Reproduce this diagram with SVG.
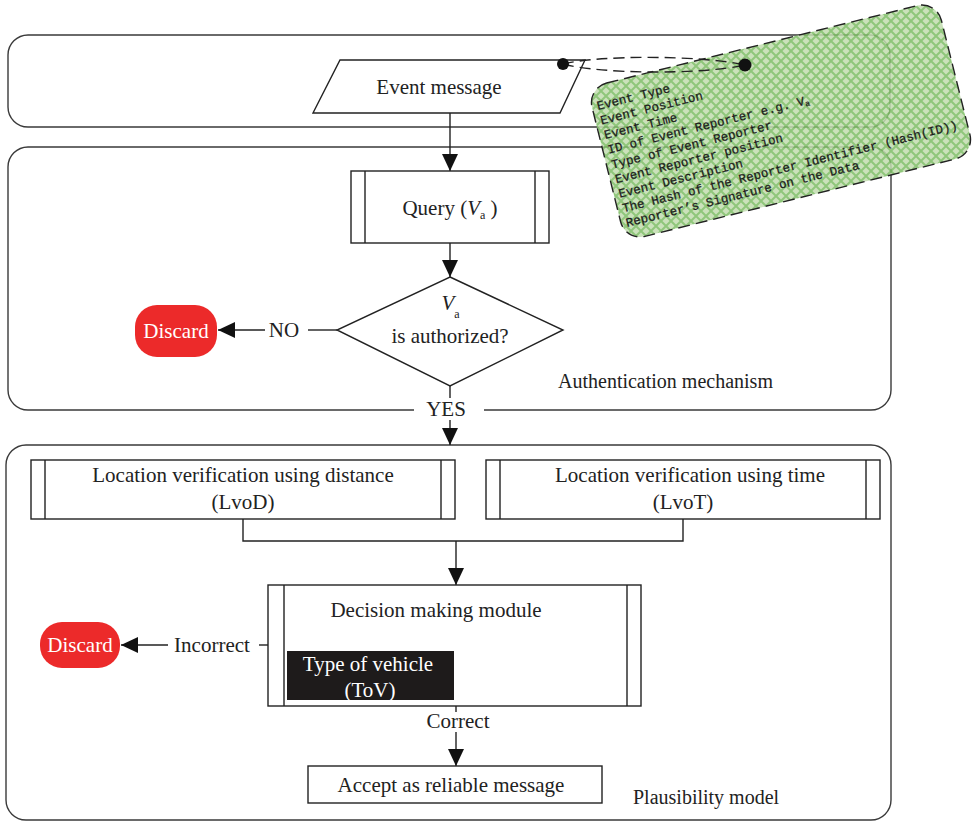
<svg xmlns="http://www.w3.org/2000/svg" width="974" height="824" viewBox="0 0 974 824">
<style>
.cont{fill:none;stroke:#3a3a3a;stroke-width:1.4}
.box{fill:#fff;stroke:#222;stroke-width:1.4}
.ln{fill:none;stroke:#222;stroke-width:1.4}
.t{font-family:"Liberation Serif","Times New Roman",serif;font-size:21px;fill:#222;text-anchor:middle}
.tl{font-family:"Liberation Serif","Times New Roman",serif;font-size:20px;fill:#222}
.sub{font-size:12px}
.w{fill:#fff}
.disc{fill:#ec2a2a}
.mono{font-family:"Liberation Mono","Courier New",monospace;font-size:12.5px;fill:#1c1c1c;stroke:#1c1c1c;stroke-width:0.25}
</style>
<defs>
<marker id="ah" markerUnits="userSpaceOnUse" markerWidth="18" markerHeight="16" refX="17" refY="8" orient="auto">
<path d="M0,0 L17,8 L0,16 Z" fill="#111"/>
</marker>
<pattern id="hatch" patternUnits="userSpaceOnUse" width="10" height="10" patternTransform="rotate(14)">
<rect width="10" height="10" fill="#c2dcb0"/>
<path d="M0,0 L10,10 M10,0 L0,10" stroke="#7dbd65" stroke-width="2"/>
</pattern>
</defs>
<rect width="974" height="824" fill="#fff"/>

<g id="containers">
<rect id="c1" class="cont" x="8" y="35" width="882" height="92" rx="20"/>
<rect id="c2" class="cont" x="8" y="147" width="883" height="263" rx="20"/>
<rect id="c3" class="cont" x="6" y="445" width="885" height="375" rx="20"/>
<text class="tl" x="558" y="388">Authentication mechanism</text>
<text class="tl" x="633" y="804">Plausibility model</text>
</g>

<g id="connectors">
<path class="ln" d="M450,113 V171" marker-end="url(#ah)"/>
<path class="ln" d="M450,243 V277" marker-end="url(#ah)"/>
<path class="ln" d="M337,330 H308"/>
<text class="t" x="284" y="337">NO</text>
<path class="ln" d="M265,330 H218" marker-end="url(#ah)"/>
<path class="ln" d="M450,386 V398"/>
<rect x="414" y="399" width="70" height="20" fill="#fff"/>
<text class="t" x="446" y="416">YES</text>
<path class="ln" d="M450,420 V445" marker-end="url(#ah)"/>
<path class="ln" d="M243,519 V541 H683 V519"/>
<path class="ln" d="M456,541 V585" marker-end="url(#ah)"/>
<path class="ln" d="M268,645 H259"/>
<text class="t" x="212" y="652">Incorrect</text>
<path class="ln" d="M168,645 H121" marker-end="url(#ah)"/>
<path class="ln" d="M456,706 V712"/>
<text class="t" x="458" y="728">Correct</text>
<path class="ln" d="M456,732 V766" marker-end="url(#ah)"/>
</g>

<g id="event">
<polygon class="box" points="340,60 585,60 560,113 313,113"/>
<text class="t" x="439" y="94">Event message</text>
</g>

<g id="query">
<rect class="box" x="351" y="171" width="198" height="72"/>
<path class="ln" d="M365,171 V243 M535,171 V243"/>
<text class="t" x="450" y="215">Query (<tspan font-style="italic">V</tspan><tspan class="sub" dy="4">a</tspan><tspan dy="-4"> )</tspan></text>
</g>

<g id="decision1">
<polygon class="box" points="450,277 563,330 450,386 337,330"/>
<text class="t" x="448" y="310" font-style="italic">V</text>
<text class="t sub" x="457" y="318">a</text>
<text class="t" x="450" y="343">is authorized?</text>
</g>

<g id="discard1">
<rect class="disc" x="135" y="305" width="82" height="52" rx="22"/>
<text class="t w" x="176" y="338">Discard</text>
</g>

<g id="lvod">
<rect class="box" x="31" y="460" width="424" height="59"/>
<path class="ln" d="M45,460 V519 M441,460 V519"/>
<text class="t" x="243" y="482">Location verification using distance</text>
<text class="t" x="243" y="509">(LvoD)</text>
</g>

<g id="lvot">
<rect class="box" x="486" y="460" width="394" height="59"/>
<path class="ln" d="M500,460 V519 M866,460 V519"/>
<text class="t" x="690" y="482">Location verification using time</text>
<text class="t" x="683" y="509">(LvoT)</text>
</g>

<g id="decision">
<rect class="box" x="268" y="585" width="373" height="121"/>
<path class="ln" d="M284,585 V706 M627,585 V706"/>
<text class="t" x="436" y="617">Decision making module</text>
<rect x="287" y="651" width="167" height="49" fill="#1e1b1b"/>
<text class="t w" x="368" y="671">Type of vehicle</text>
<text class="t w" x="370" y="697">(ToV)</text>
</g>

<g id="discard2">
<rect class="disc" x="40" y="622" width="80" height="46" rx="22"/>
<text class="t w" x="80" y="652">Discard</text>
</g>

<g id="accept">
<rect class="box" x="308" y="766" width="294" height="37"/>
<text class="t" x="451" y="792">Accept as reliable message</text>
</g>

<g id="card" transform="translate(781,121) rotate(-14)">
<rect x="-180" y="-79" width="360" height="158" rx="20" fill="url(#hatch)" fill-opacity="0.86" stroke="#222" stroke-width="1.4" stroke-dasharray="12,6"/>
<text class="mono" x="-175" y="-55">Event Type</text>
<text class="mono" x="-175" y="-40">Event Position</text>
<text class="mono" x="-175" y="-25">Event Time</text>
<text class="mono" x="-175" y="-10">ID of Event Reporter e.g. V<tspan font-size="8" dy="2">a</tspan></text>
<text class="mono" x="-175" y="5.5">Type of Event Reporter</text>
<text class="mono" x="-175" y="20.5">Event Reporter position</text>
<text class="mono" x="-175" y="35.5">Event Description</text>
<text class="mono" x="-175" y="50.5">The Hash of the Reporter Identifier (Hash(ID))</text>
<text class="mono" x="-175" y="65.5">Reporter’s Signature on the Data</text>
</g>

<g id="link">
<path d="M563,64 C600,55 700,55 745,65" fill="none" stroke="#222" stroke-width="1.4" stroke-dasharray="11,6"/>
<path d="M563,64 C600,74 700,75 745,65" fill="none" stroke="#222" stroke-width="1.4" stroke-dasharray="11,6"/>
<circle cx="563" cy="64" r="6" fill="#111"/>
<circle cx="745" cy="65" r="6.5" fill="#111"/>
</g>
</svg>
